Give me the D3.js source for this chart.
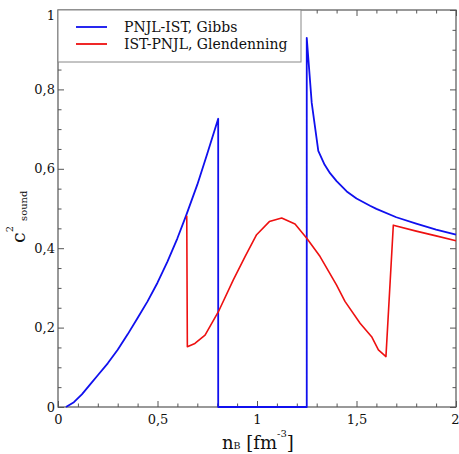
<!DOCTYPE html>
<html>
<head>
<meta charset="utf-8">
<script src="https://cdnjs.cloudflare.com/ajax/libs/d3/7.8.5/d3.min.js"></script>
<style>
  html, body { margin: 0; padding: 0; background: #fff; }
  svg { display: block; font-family: "DejaVu Serif", serif; }
</style>
</head>
<body>
<div id="chart"></div>
<script>
// ---- data ----
const seriesNames = ["PNJL-IST, Gibbs", "IST-PNJL, Glendenning"];
const seriesColors = ["#1010ee", "#ee1010"];

const gibbsX = [0.04, 0.08, 0.12, 0.167, 0.2, 0.25, 0.3, 0.35, 0.4, 0.45, 0.5, 0.55, 0.6, 0.645, 0.7, 0.75, 0.805,
                0.805, 1.25, 1.25, 1.275, 1.308, 1.34, 1.367, 1.4, 1.451, 1.5, 1.568, 1.6, 1.7, 1.8, 1.9, 2.0];
const gibbsY = [0, 0.012, 0.032, 0.06, 0.08, 0.11, 0.144, 0.183, 0.224, 0.266, 0.313, 0.366, 0.425, 0.484, 0.56, 0.638, 0.726,
                0, 0, 0.93, 0.766, 0.645, 0.61, 0.589, 0.569, 0.543, 0.525, 0.507, 0.499, 0.478, 0.462, 0.447, 0.434];

const glendX = [0.647, 0.65, 0.688, 0.739, 0.806, 0.881, 0.94, 0.998, 1.062, 1.124, 1.191, 1.25, 1.317, 1.40, 1.442,
                1.518, 1.576, 1.61, 1.648, 1.685, 1.8, 1.9, 2.0];
const glendY = [0.482, 0.152, 0.16, 0.181, 0.24, 0.32, 0.379, 0.434, 0.467, 0.476, 0.461, 0.425, 0.379, 0.307, 0.266,
                0.211, 0.177, 0.144, 0.127, 0.458, 0.443, 0.431, 0.419];

const xMajorTicks = [0, 0.5, 1, 1.5, 2];
const xTickLabels = ["0", "0,5", "1", "1,5", "2"];
const yMajorTicks = [0, 0.2, 0.4, 0.6, 0.8, 1];
const yTickLabels = ["0", "0,2", "0,4", "0,6", "0,8", "1"];
const xMinorStep = 0.1;
const yMinorStep = 0.05;

// ---- layout ----
const W = 459, H = 454;
const mLeft = 58, mRight = 456, mTop = 10, mBottom = 407;

const svg = d3.select("#chart").append("svg").attr("width", W).attr("height", H);

const x = d3.scaleLinear().domain([0, 2]).range([mLeft, mRight]);
const y = d3.scaleLinear().domain([0, 1]).range([mBottom, mTop]);

const xMinor = d3.range(0, 2 + 1e-9, xMinorStep).filter(v => !xMajorTicks.some(t => Math.abs(t - v) < 1e-6));
const yMinor = d3.range(0, 1 + 1e-9, yMinorStep).filter(v => !yMajorTicks.some(t => Math.abs(t - v) < 1e-6));

const frameColor = "#555";
const majorLen = 6, minorLen = 3.5;

function addAxis(axisGen, transform) {
  const g = svg.append("g").attr("transform", transform).call(axisGen);
  g.select(".domain").remove();
  g.selectAll("line").attr("stroke", frameColor);
  return g;
}
const gB = addAxis(d3.axisBottom(x).tickValues(xMajorTicks).tickSize(-majorLen).tickPadding(8)
  .tickFormat((d, i) => xTickLabels[i]), `translate(0,${mBottom})`);
gB.selectAll("text").attr("font-size", 13).attr("fill", "#111").attr("font-family", "DejaVu Serif")
  .attr("text-anchor", d => d === 2 ? "end" : "middle")
  .attr("dx", d => d === 2 ? 3 : 0);
addAxis(d3.axisBottom(x).tickValues(xMinor).tickSize(-minorLen).tickFormat(""), `translate(0,${mBottom})`);
addAxis(d3.axisTop(x).tickValues(xMajorTicks).tickSize(-majorLen).tickFormat(""), `translate(0,${mTop})`);
addAxis(d3.axisTop(x).tickValues(xMinor).tickSize(-minorLen).tickFormat(""), `translate(0,${mTop})`);
const gL = addAxis(d3.axisLeft(y).tickValues(yMajorTicks).tickSize(-majorLen).tickPadding(3)
  .tickFormat((d, i) => yTickLabels[i]), `translate(${mLeft},0)`);
gL.selectAll("text").attr("font-size", 13).attr("fill", "#111").attr("font-family", "DejaVu Serif")
  .attr("dy", (d) => d === 1 ? "0.7em" : "0.32em");
addAxis(d3.axisLeft(y).tickValues(yMinor).tickSize(-minorLen).tickFormat(""), `translate(${mLeft},0)`);
addAxis(d3.axisRight(y).tickValues(yMajorTicks).tickSize(-majorLen).tickFormat(""), `translate(${mRight},0)`);
addAxis(d3.axisRight(y).tickValues(yMinor).tickSize(-minorLen).tickFormat(""), `translate(${mRight},0)`);

svg.append("rect").attr("x", mLeft).attr("y", mTop).attr("width", mRight - mLeft).attr("height", mBottom - mTop)
  .attr("fill", "none").attr("stroke", frameColor).attr("stroke-width", 1.2);

const line = d3.line().x(d => x(d[0])).y(d => y(d[1]));
const gibbs = gibbsX.map((v, i) => [v, gibbsY[i]]);
const glend = glendX.map((v, i) => [v, glendY[i]]);

svg.append("path").datum(gibbs).attr("d", line).attr("fill", "none")
  .attr("stroke", seriesColors[0]).attr("stroke-width", 1.8).attr("stroke-linejoin", "round");
svg.append("path").datum(glend).attr("d", line).attr("fill", "none")
  .attr("stroke", seriesColors[1]).attr("stroke-width", 1.6).attr("stroke-linejoin", "round");

const lg = svg.append("g");
lg.append("rect").attr("x", mLeft).attr("y", mTop).attr("width", 243).attr("height", 52)
  .attr("fill", "#fff").attr("stroke", "#888").attr("stroke-width", 1);
seriesNames.forEach((name, i) => {
  const yy = 27 + i * 17;
  lg.append("line").attr("x1", 76).attr("x2", 107).attr("y1", yy).attr("y2", yy)
    .attr("stroke", seriesColors[i]).attr("stroke-width", 1.8);
  lg.append("text").attr("x", 124).attr("y", yy + 5).attr("font-size", 14).attr("fill", "#111").text(name);
});

const xt = svg.append("text").attr("x", 222).attr("y", 449).attr("fill", "#111");
xt.append("tspan").attr("font-size", 18).text("n");
xt.append("tspan").attr("font-size", 9.5).text("B");
xt.append("tspan").attr("font-size", 18).text(" [fm");
xt.append("tspan").attr("font-size", 10).attr("dy", -12).text("-3");
xt.append("tspan").attr("font-size", 18).attr("dy", 12).text("]");

const yt = svg.append("text").attr("transform", "translate(25,243) rotate(-90)").attr("fill", "#111");
yt.append("tspan").attr("x", 0).attr("font-size", 19).text("c");
yt.append("tspan").attr("font-size", 10).attr("dy", -12).text("2");
yt.append("tspan").attr("x", 22).attr("font-size", 10).attr("dy", 14).text("sound");
</script>
</body>
</html>
